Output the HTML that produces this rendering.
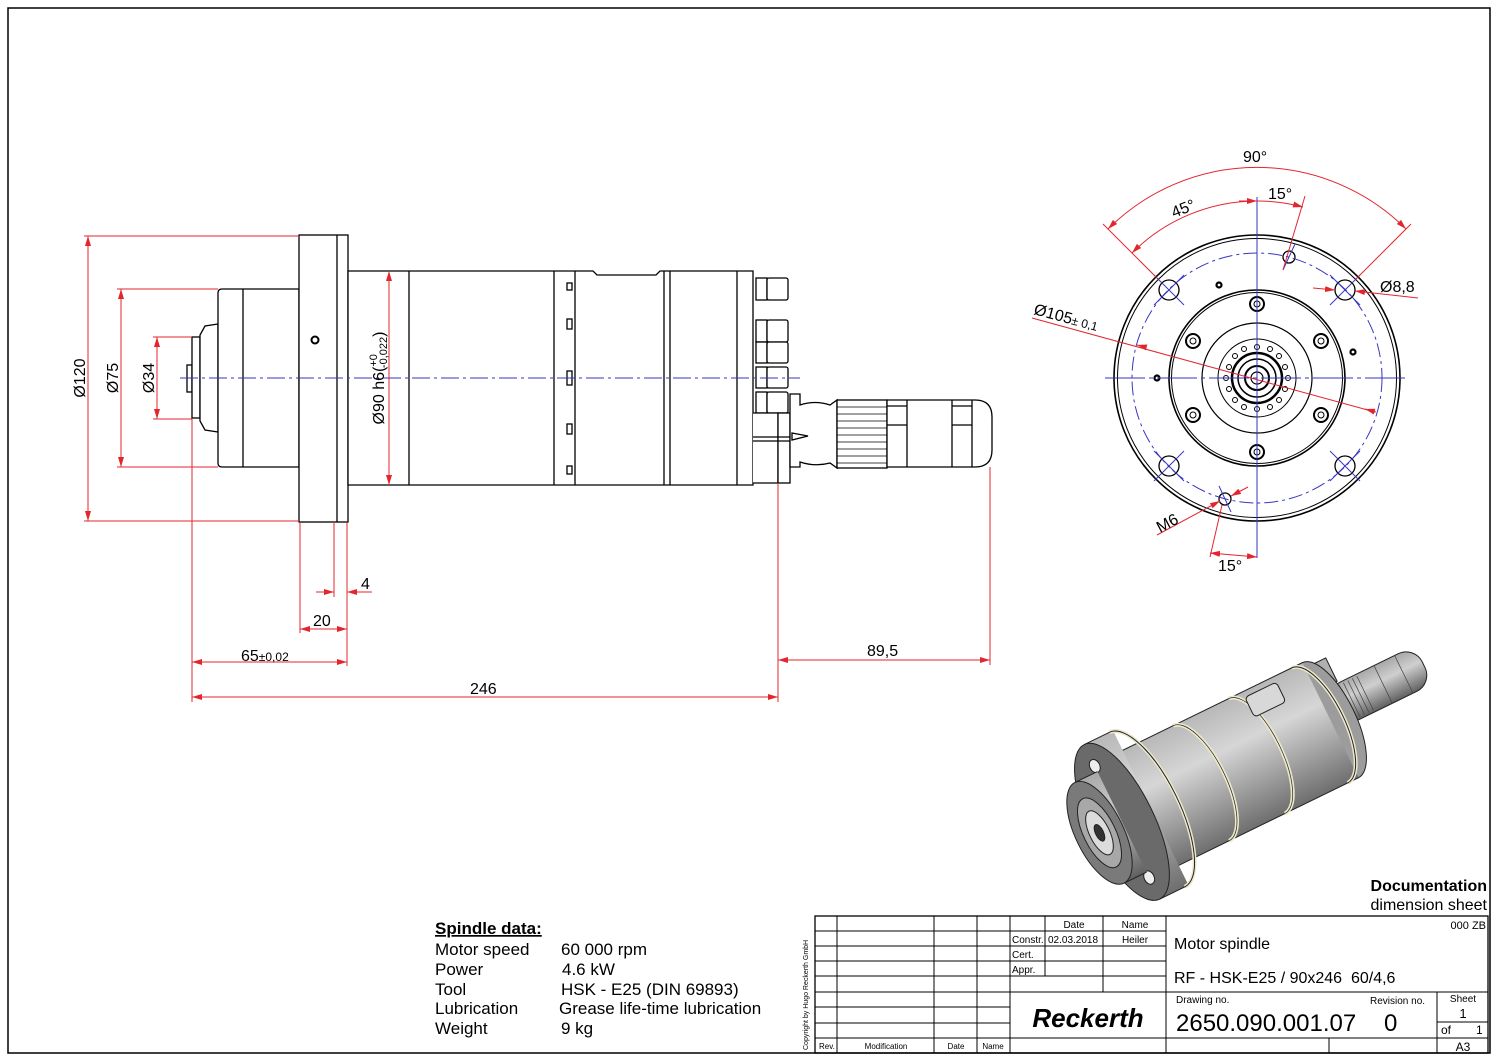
<!DOCTYPE html>
<html><head><meta charset="utf-8"><style>
html,body{margin:0;padding:0;background:#fff}
svg{display:block}
text{font-family:"Liberation Sans",Arial,sans-serif}
</style></head><body>
<svg width="1500" height="1060" viewBox="0 0 1500 1060" xmlns="http://www.w3.org/2000/svg">
<defs>
<marker id="ar" viewBox="0 0 10 6" refX="10" refY="3" markerWidth="10" markerHeight="6" orient="auto-start-reverse" markerUnits="userSpaceOnUse">
<path d="M0,0 L10,3 L0,6 z" fill="#e3262e"/></marker>
<linearGradient id="cyl" x1="0" y1="0" x2="0" y2="1">
<stop offset="0" stop-color="#b8b8b8"/><stop offset="0.35" stop-color="#d6d6d6"/><stop offset="1" stop-color="#6e6e6e"/></linearGradient>
<linearGradient id="cyl2" x1="0" y1="0" x2="0" y2="1">
<stop offset="0" stop-color="#a8a8a8"/><stop offset="0.4" stop-color="#cfcfcf"/><stop offset="1" stop-color="#606060"/></linearGradient>
</defs>
<rect x="8" y="8" width="1482" height="1045" fill="none" stroke="#000" stroke-width="1.5"/>

<!-- ===== SIDE VIEW ===== -->
<g stroke="#000" stroke-width="1.3" fill="#fff">
<rect x="187" y="365" width="5" height="27"/>
<rect x="192" y="337" width="8" height="81"/>
<path d="M218,324 L205,326 L200,335 L200,421 L205,430 L218,432 Z"/>
<path d="M222,289 L299,289 L299,467 L222,467 Q218,467 218,463 L218,293 Q218,289 222,289 Z"/>
<line x1="243" y1="289" x2="243" y2="467"/>
<rect x="299" y="235" width="49" height="287"/>
<line x1="337" y1="235" x2="337" y2="522"/>
<path d="M348,271 L593,271 L597,275 L656,275 L660,271 L753,271 L753,485 L348,485 Z"/>
<line x1="409" y1="271" x2="409" y2="485"/>
<line x1="554" y1="271" x2="554" y2="485"/>
<line x1="575" y1="271" x2="575" y2="485"/>
<line x1="664" y1="271" x2="664" y2="485"/>
<line x1="670" y1="271" x2="670" y2="485"/>
<line x1="737" y1="271" x2="737" y2="485"/>
<rect x="567" y="283" width="5" height="7"/>
<rect x="567" y="319" width="5" height="10"/>
<rect x="567" y="371" width="5" height="14"/>
<rect x="567" y="424" width="5" height="10"/>
<rect x="567" y="466" width="5" height="8"/>
<rect x="756" y="278" width="11" height="22"/><rect x="767" y="278" width="21" height="22" rx="2"/>
<rect x="756" y="320" width="11" height="22"/><rect x="767" y="320" width="21" height="22" rx="2"/>
<rect x="756" y="342" width="11" height="21"/><rect x="767" y="342" width="21" height="21" rx="2"/>
<rect x="756" y="367" width="11" height="21"/><rect x="767" y="367" width="21" height="21" rx="2"/>
<rect x="756" y="392" width="11" height="21"/><rect x="767" y="392" width="21" height="21" rx="2"/>
<path d="M753,413 L778,413 L778,483 L753,483"/>
<rect x="778" y="413" width="12" height="70"/>
<line x1="753" y1="437" x2="790" y2="437"/><line x1="753" y1="441" x2="790" y2="441"/>
<path d="M790,394 L800,394 L800,405 Q815,400 830,405 L837,400 L837,468 L830,463 Q815,467 800,462 L800,467 L790,467 Z"/>
<path d="M792,433 L808,436 L792,440 Z"/>
<rect x="837" y="400" width="50" height="68"/>
<g stroke-width="0.8">
<line x1="837" y1="407" x2="887" y2="407"/><line x1="837" y1="414" x2="887" y2="414"/><line x1="837" y1="421" x2="887" y2="421"/><line x1="837" y1="428" x2="887" y2="428"/><line x1="837" y1="435" x2="887" y2="435"/><line x1="837" y1="442" x2="887" y2="442"/><line x1="837" y1="449" x2="887" y2="449"/><line x1="837" y1="456" x2="887" y2="456"/><line x1="837" y1="463" x2="887" y2="463"/></g>
<path d="M887,400 L975,400 Q992,400 992,417 L992,450 Q992,467 975,467 L887,467 Z"/>
<line x1="907" y1="400" x2="907" y2="467"/><line x1="952" y1="400" x2="952" y2="467"/><line x1="972" y1="400" x2="972" y2="467"/>
<line x1="887" y1="406" x2="907" y2="406"/><line x1="952" y1="406" x2="972" y2="406"/><line x1="887" y1="425" x2="907" y2="425"/><line x1="952" y1="425" x2="972" y2="425"/>
</g>
<circle cx="315" cy="340" r="3.5" fill="none" stroke="#000" stroke-width="2"/>
<line x1="180" y1="378" x2="800" y2="378" stroke="#3636c0" stroke-width="1" stroke-dasharray="18,4,3,4"/>

<g stroke="#e3262e" stroke-width="1" fill="none">
<line x1="84" y1="236" x2="299" y2="236"/><line x1="84" y1="521" x2="299" y2="521"/>
<line x1="88" y1="236" x2="88" y2="521" marker-start="url(#ar)" marker-end="url(#ar)"/>
<line x1="117" y1="289" x2="218" y2="289"/><line x1="117" y1="467" x2="218" y2="467"/>
<line x1="121" y1="289" x2="121" y2="467" marker-start="url(#ar)" marker-end="url(#ar)"/>
<line x1="153" y1="337" x2="192" y2="337"/><line x1="153" y1="419" x2="192" y2="419"/>
<line x1="157" y1="337" x2="157" y2="419" marker-start="url(#ar)" marker-end="url(#ar)"/>
<line x1="389" y1="271" x2="389" y2="485" marker-start="url(#ar)" marker-end="url(#ar)"/>
<line x1="192" y1="419" x2="192" y2="702"/>
<line x1="300" y1="522" x2="300" y2="633"/>
<line x1="334" y1="522" x2="334" y2="597"/>
<line x1="347" y1="522" x2="347" y2="666"/>
<line x1="778" y1="483" x2="778" y2="702"/>
<line x1="990" y1="467" x2="990" y2="665"/>
<line x1="316" y1="592" x2="334" y2="592" marker-end="url(#ar)"/>
<line x1="372" y1="592" x2="347" y2="592" marker-end="url(#ar)"/>
<line x1="300" y1="629" x2="347" y2="629" marker-start="url(#ar)" marker-end="url(#ar)"/>
<line x1="192" y1="662" x2="347" y2="662" marker-start="url(#ar)" marker-end="url(#ar)"/>
<line x1="192" y1="697" x2="778" y2="697" marker-start="url(#ar)" marker-end="url(#ar)"/>
<line x1="778" y1="660" x2="990" y2="660" marker-start="url(#ar)" marker-end="url(#ar)"/>
</g>
<g font-size="16" fill="#000">
<text transform="translate(85,378) rotate(-90)" text-anchor="middle">Ø120</text>
<text transform="translate(118,378) rotate(-90)" text-anchor="middle">Ø75</text>
<text transform="translate(154,378) rotate(-90)" text-anchor="middle">Ø34</text>
<text transform="translate(384,378) rotate(-90)" text-anchor="middle">Ø90 h6(<tspan font-size="11" dy="-7">+0</tspan><tspan font-size="11" dx="-14" dy="10">-0,022</tspan><tspan dy="-3">)</tspan></text>
<text x="361" y="589">4</text>
<text x="313" y="626">20</text>
<text x="241" y="661">65<tspan font-size="12">±0,02</tspan></text>
<text x="470" y="694">246</text>
<text x="867" y="656">89,5</text>
</g>

<!-- ===== FRONT VIEW ===== -->
<g fill="none" stroke="#000">
<circle cx="1257" cy="378" r="143" stroke-width="1.6"/>
<circle cx="1257" cy="378" r="139.5" stroke-width="1"/>
<circle cx="1257" cy="378" r="88" stroke-width="1.6"/>
<circle cx="1257" cy="378" r="85.5" stroke-width="1"/>
<circle cx="1257" cy="378" r="55" stroke-width="1.2"/>
<circle cx="1257" cy="378" r="39" stroke-width="1"/>
<circle cx="1257" cy="378" r="25" stroke-width="2.5"/>
<circle cx="1257" cy="378" r="19" stroke-width="1.5"/>
<circle cx="1257" cy="378" r="12" stroke-width="2"/>
<circle cx="1257" cy="378" r="6" stroke-width="1.2"/>
<g stroke-width="1">
<circle cx="1226" cy="378" r="2.5"/><circle cx="1288" cy="378" r="2.5"/><circle cx="1257" cy="347" r="2.5"/><circle cx="1257" cy="409" r="2.5"/>
<circle cx="1235" cy="356" r="2.5"/><circle cx="1279" cy="356" r="2.5"/><circle cx="1235" cy="400" r="2.5"/><circle cx="1279" cy="400" r="2.5"/>
<circle cx="1244" cy="349" r="2.5"/><circle cx="1270" cy="349" r="2.5"/><circle cx="1244" cy="407" r="2.5"/><circle cx="1270" cy="407" r="2.5"/>
<circle cx="1229" cy="367" r="2.5"/><circle cx="1285" cy="389" r="2.5"/><circle cx="1229" cy="389" r="2.5"/><circle cx="1285" cy="367" r="2.5"/>
</g>
<g stroke-width="2">
<circle cx="1257" cy="304" r="7"/><circle cx="1193" cy="341" r="7"/><circle cx="1321" cy="341" r="7"/>
<circle cx="1193" cy="415" r="7"/><circle cx="1321" cy="415" r="7"/><circle cx="1257" cy="452" r="7"/></g>
<g stroke-width="1">
<circle cx="1257" cy="304" r="3"/><circle cx="1193" cy="341" r="3"/><circle cx="1321" cy="341" r="3"/>
<circle cx="1193" cy="415" r="3"/><circle cx="1321" cy="415" r="3"/><circle cx="1257" cy="452" r="3"/></g>
<g stroke-width="1.3">
<circle cx="1169" cy="290" r="10"/><circle cx="1345" cy="290" r="10"/><circle cx="1169" cy="466" r="10"/><circle cx="1345" cy="466" r="10"/>
<circle cx="1289" cy="257" r="6"/><circle cx="1225" cy="499" r="6"/></g>
<g stroke-width="2.2"><circle cx="1219" cy="285" r="2.5"/><circle cx="1353" cy="352" r="2.5"/><circle cx="1157" cy="378" r="2.5"/></g>
</g>
<g stroke="#3636c0" stroke-width="1" fill="none">
<circle cx="1257" cy="378" r="125" stroke-dasharray="14,4,3,4"/>
<line x1="1105" y1="378" x2="1408" y2="378" stroke-dasharray="40,4,4,4"/>
<line x1="1257" y1="197" x2="1257" y2="558"/>
<line x1="1154" y1="275" x2="1184" y2="305"/><line x1="1330" y1="305" x2="1360" y2="275"/>
<line x1="1154" y1="481" x2="1184" y2="451"/><line x1="1330" y1="451" x2="1360" y2="481"/>
<line x1="1154" y1="305" x2="1184" y2="275"/><line x1="1330" y1="275" x2="1360" y2="305"/>
<line x1="1154" y1="451" x2="1184" y2="481"/><line x1="1330" y1="481" x2="1360" y2="451"/>
<line x1="1283" y1="270" x2="1295" y2="244"/><line x1="1219" y1="486" x2="1231" y2="512"/>
</g>
<g stroke="#e3262e" stroke-width="1" fill="none">
<line x1="1158" y1="279" x2="1103" y2="224"/><line x1="1356" y1="279" x2="1411" y2="224"/>
<path d="M1108,229 A211,211 0 0 1 1406,229" marker-start="url(#ar)" marker-end="url(#ar)"/>
<path d="M1132,253 A177,177 0 0 1 1257,201" marker-start="url(#ar)"/>
<path d="M1257,201 A177,177 0 0 1 1303,207" marker-end="url(#ar)"/>
<line x1="1239" y1="201" x2="1257" y2="201" marker-end="url(#ar)"/>
<line x1="1283" y1="270" x2="1305" y2="196"/>
<line x1="1313" y1="288" x2="1335" y2="290" marker-end="url(#ar)"/>
<line x1="1418" y1="298" x2="1355" y2="291" marker-end="url(#ar)"/>
<line x1="1032" y1="318" x2="1375" y2="412"/>
<line x1="1145" y1="347" x2="1137" y2="345" marker-end="url(#ar)"/>
<line x1="1365" y1="409" x2="1376" y2="412" marker-start="url(#ar)"/>
<line x1="1157" y1="535" x2="1220" y2="501" marker-end="url(#ar)"/>
<line x1="1248" y1="487" x2="1231" y2="496" marker-end="url(#ar)"/>
<line x1="1222" y1="505" x2="1210" y2="557"/>
<line x1="1210" y1="553" x2="1257" y2="557" marker-start="url(#ar)" marker-end="url(#ar)"/>
</g>
<g font-size="16" fill="#000">
<text x="1243" y="162">90°</text>
<text transform="translate(1174,218) rotate(-22)">45°</text>
<text x="1268" y="199">15°</text>
<text x="1380" y="292">Ø8,8</text>
<text transform="translate(1033,314) rotate(15)">Ø105<tspan font-size="12">± 0,1</tspan></text>
<text transform="translate(1160,533) rotate(-28)">M6</text>
<text x="1218" y="571">15°</text>
</g>

<!-- ===== 3D VIEW ===== -->
<g transform="translate(1095,835) rotate(-26)" stroke="#222" stroke-width="1">
<rect x="255" y="-58" width="30" height="26" fill="#b0b0b0"/>
<rect x="270" y="-30" width="100" height="42" rx="18" fill="url(#cyl2)"/>
<g stroke="#444" stroke-width="0.7"><line x1="285" y1="-28" x2="285" y2="10"/><line x1="290" y1="-28" x2="290" y2="10"/><line x1="295" y1="-28" x2="295" y2="10"/><line x1="300" y1="-28" x2="300" y2="10"/><line x1="305" y1="-28" x2="305" y2="10"/><line x1="325" y1="-30" x2="325" y2="12"/><line x1="348" y1="-30" x2="348" y2="12"/></g>
<rect x="255" y="5" width="25" height="25" fill="#9a9a9a"/>
<ellipse cx="262" cy="0" rx="25" ry="64" fill="#9c9c9c"/>
<rect x="55" y="-64" width="207" height="128" fill="url(#cyl)" stroke="none"/>
<line x1="55" y1="-64" x2="262" y2="-64"/><line x1="55" y1="64" x2="262" y2="64"/>
<path d="M250,-64 A25,64 0 0 1 250,64" fill="none" stroke="#ece8cc" stroke-width="4"/>
<path d="M250,-64 A25,64 0 0 1 250,64" fill="none" stroke="#222"/>
<path d="M180,-64 A25,64 0 0 1 180,64" fill="none" stroke="#ece8cc" stroke-width="4"/>
<path d="M180,-64 A25,64 0 0 1 180,64" fill="none" stroke="#222" stroke-width="0.7"/>
<path d="M118,-64 A25,64 0 0 1 118,64" fill="none" stroke="#ece8cc" stroke-width="4"/>
<path d="M118,-64 A25,64 0 0 1 118,64" fill="none" stroke="#222" stroke-width="0.7"/>
<rect x="195" y="-58" width="35" height="22" rx="4" fill="#d8d8d8"/>
<rect x="30" y="-86" width="32" height="172" fill="url(#cyl)" stroke="none"/>
<line x1="30" y1="-86" x2="62" y2="-86"/><line x1="30" y1="86" x2="62" y2="86"/>
<path d="M58,-86 A32,86 0 0 1 58,86" fill="none" stroke="#ece8cc" stroke-width="4"/>
<path d="M58,-86 A32,86 0 0 1 58,86" fill="none" stroke="#222"/>
<ellipse cx="30" cy="0" rx="32" ry="86" fill="#6a6a6a"/>
<ellipse cx="30" cy="-62" rx="5" ry="7" fill="#eee"/><ellipse cx="30" cy="62" rx="5" ry="7" fill="#eee"/>
<rect x="5" y="-56" width="25" height="112" fill="url(#cyl2)" stroke="none"/>
<line x1="5" y1="-56" x2="30" y2="-56"/><line x1="5" y1="56" x2="30" y2="56"/>
<ellipse cx="5" cy="0" rx="24" ry="56" fill="#7a7a7a"/>
<ellipse cx="5" cy="0" rx="16" ry="38" fill="#a8a8a8"/>
<ellipse cx="5" cy="0" rx="10" ry="24" fill="#dcdcdc"/>
<ellipse cx="5" cy="0" rx="4" ry="9" fill="#333"/>
</g>

<!-- ===== TEXT BLOCKS ===== -->
<g font-size="17" fill="#000">
<text x="435" y="934" font-weight="bold" text-decoration="underline">Spindle data:</text>
<text x="435" y="955">Motor speed</text><text x="561" y="955">60 000 rpm</text>
<text x="435" y="975">Power</text><text x="562" y="975">4.6 kW</text>
<text x="435" y="995">Tool</text><text x="561" y="995">HSK - E25 (DIN 69893)</text>
<text x="435" y="1014">Lubrication</text><text x="559" y="1014">Grease life-time lubrication</text>
<text x="435" y="1034">Weight</text><text x="561" y="1034">9 kg</text>
</g>
<text x="1487" y="891" font-size="16" font-weight="bold" text-anchor="end">Documentation</text>
<text x="1487" y="910" font-size="16" text-anchor="end">dimension sheet</text>

<g stroke="#000" stroke-width="1" fill="none">
<rect x="815" y="916" width="673" height="137" stroke-width="1.3"/>
<line x1="837" y1="916" x2="837" y2="1053"/><line x1="934" y1="916" x2="934" y2="1053"/>
<line x1="977" y1="916" x2="977" y2="1053"/><line x1="1010" y1="916" x2="1010" y2="1053"/>
<line x1="1166" y1="916" x2="1166" y2="1053"/>
<line x1="815" y1="931" x2="1166" y2="931"/><line x1="815" y1="946" x2="1166" y2="946"/>
<line x1="815" y1="961" x2="1166" y2="961"/><line x1="815" y1="976" x2="1166" y2="976"/>
<line x1="815" y1="992" x2="1488" y2="992"/>
<line x1="815" y1="1007" x2="1010" y2="1007"/><line x1="815" y1="1023" x2="1010" y2="1023"/>
<line x1="815" y1="1038" x2="1488" y2="1038"/>
<line x1="1045" y1="916" x2="1045" y2="976"/><line x1="1103" y1="916" x2="1103" y2="992"/>
<line x1="1437" y1="992" x2="1437" y2="1053"/><line x1="1437" y1="1022" x2="1488" y2="1022"/>
<line x1="1329" y1="1038" x2="1329" y2="1053"/>
</g>
<g fill="#000">
<text transform="translate(808,1050) rotate(-90)" font-size="7">Copyright by Hugo Reckerth GmbH</text>
<text x="1074" y="928" font-size="10" text-anchor="middle">Date</text>
<text x="1135" y="928" font-size="10" text-anchor="middle">Name</text>
<text x="1012" y="943" font-size="10">Constr.</text><text x="1048" y="943" font-size="10">02.03.2018</text>
<text x="1135" y="943" font-size="10" text-anchor="middle">Heiler</text>
<text x="1012" y="958" font-size="10">Cert.</text><text x="1012" y="973" font-size="10">Appr.</text>
<text x="1088" y="1027" font-size="26" font-weight="bold" font-style="italic" text-anchor="middle">Reckerth</text>
<text x="819" y="1049" font-size="8">Rev.</text><text x="886" y="1049" font-size="8" text-anchor="middle">Modification</text>
<text x="956" y="1049" font-size="8" text-anchor="middle">Date</text><text x="993" y="1049" font-size="8" text-anchor="middle">Name</text>
<text x="1486" y="929" font-size="11" text-anchor="end">000 ZB</text>
<text x="1174" y="949" font-size="16">Motor spindle</text>
<text x="1174" y="983" font-size="16" xml:space="preserve">RF - HSK-E25 / 90x246  60/4,6</text>
<text x="1176" y="1003" font-size="10">Drawing no.</text>
<text x="1370" y="1004" font-size="10">Revision no.</text>
<text x="1176" y="1031" font-size="24">2650.090.001.07</text>
<text x="1384" y="1031" font-size="24">0</text>
<text x="1463" y="1002" font-size="10" text-anchor="middle">Sheet</text>
<text x="1463" y="1018" font-size="13" text-anchor="middle">1</text>
<text x="1441" y="1034" font-size="12">of</text><text x="1476" y="1034" font-size="12">1</text>
<text x="1463" y="1051" font-size="12" text-anchor="middle">A3</text>
</g>
</svg>
</body></html>
